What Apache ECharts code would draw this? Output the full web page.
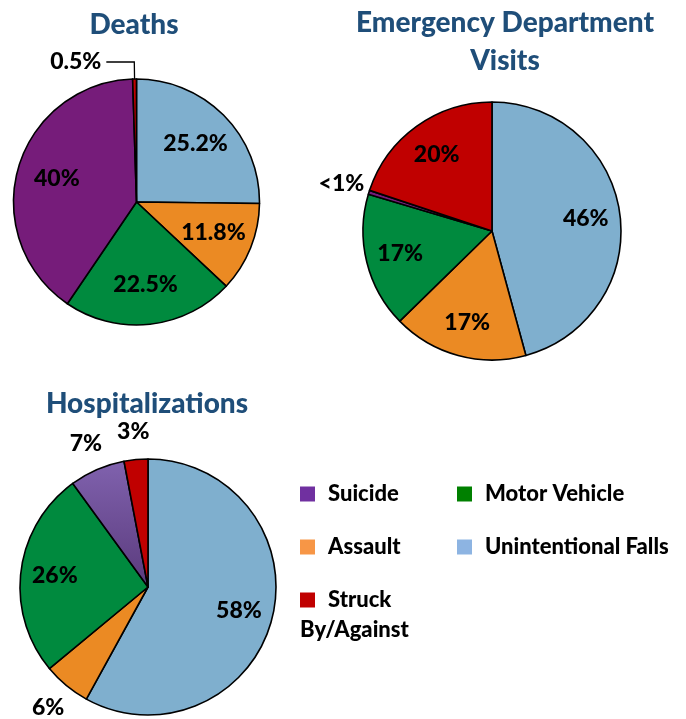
<!DOCTYPE html>
<html>
<head>
<meta charset="utf-8">
<script src="https://cdn.jsdelivr.net/npm/echarts@6/dist/echarts.min.js"></script>
<style>
html,body{margin:0;padding:0;background:#fff;}
#chart{width:686px;height:719px;}
</style>
</head>
<body>
<div id="chart"></div>
<script>
// ---- data ----
const categories = ['Unintentional Falls', 'Assault', 'Motor Vehicle', 'Suicide', 'Struck By/Against'];
const deathsValues = [25.2, 11.8, 22.5, 40, 0.5];
const deathsLabels = ['25.2%', '11.8%', '22.5%', '40%', '0.5%'];
const edValues = [46, 17, 17, 0.5, 20];
const edLabels = ['46%', '17%', '17%', '<1%', '20%'];
const hospValues = [58, 6, 26, 7, 3];
const hospLabels = ['58%', '6%', '26%', '7%', '3%'];
const legendCol1 = ['Suicide', 'Assault', 'Struck By/Against'];
const legendCol2 = ['Motor Vehicle', 'Unintentional Falls'];
const titles = ['Deaths', 'Emergency Department\nVisits', 'Hospitalizations'];

// ---- styles ----
const FONT = 'Lato';
const WEIGHT = 900;
const sliceColors = ['#7FAFCE', '#EB8A23', '#008A3E', '#761C7A', '#C00000'];
const hospPurple = new echarts.graphic.LinearGradient(0, 0, 0, 1, [
  {offset: 0, color: '#8062AE'}, {offset: 1, color: '#5A3A7C'}
]);
const legendColors = {
  'Suicide': '#7030A0', 'Motor Vehicle': '#008000', 'Assault': '#F79646',
  'Unintentional Falls': '#8DB4E2', 'Struck By/Against': '#C00000'
};
const labelFont = {fontFamily: FONT, fontWeight: WEIGHT, fontSize: 23, color: '#000'};

function buildPie(center, R, values, labels, colors, opts) {
  const main = {
    type: 'pie', center: center, radius: R, startAngle: 90, clockwise: true,
    silent: true, avoidLabelOverlap: false, animation: false,
    itemStyle: {borderColor: '#000', borderWidth: 1.6},
    label: {show: false}, labelLine: {show: false},
    data: categories.map((c, i) => {
      const d = {name: c, value: values[i], itemStyle: {color: colors[i]}};
      if (opts.leader && values[i] < 10) {
        d.label = Object.assign({show: true, position: 'outside', formatter: labels[i]}, labelFont);
        d.labelLine = {show: true, length: 17, length2: 28, lineStyle: {color: '#000', width: 1.3}};
      }
      return d;
    })
  };
  const inner = {
    type: 'pie', center: center, radius: [R * opts.inner, R], startAngle: 90, clockwise: true,
    silent: true, avoidLabelOverlap: false, animation: false,
    itemStyle: {color: 'rgba(0,0,0,0)', borderWidth: 0},
    labelLine: {show: false},
    data: categories.map((c, i) => ({
      name: c, value: values[i],
      label: Object.assign({show: values[i] >= 10, position: 'inside', formatter: labels[i]}, labelFont)
    }))
  };
  const outer = {
    type: 'pie', center: center, radius: [R, R * 1.4], startAngle: 90, clockwise: true,
    silent: true, avoidLabelOverlap: false, animation: false,
    itemStyle: {color: 'rgba(0,0,0,0)', borderWidth: 0},
    labelLine: {show: false},
    data: categories.map((c, i) => ({
      name: c, value: values[i],
      label: Object.assign({show: !opts.leader && values[i] < 10, position: 'inside', formatter: labels[i]}, labelFont)
    }))
  };
  return [main, inner, outer];
}

const hospColors = sliceColors.slice();
hospColors[3] = hospPurple;

const LF = 22;
const rich = {t: {fontFamily: FONT, fontWeight: WEIGHT, fontSize: LF, color: '#000', padding: [0, 0, 0, 13], lineHeight: 30},
              t2: {fontFamily: FONT, fontWeight: WEIGHT, fontSize: LF, color: '#000', lineHeight: 30}};
Object.keys(legendColors).forEach((k, i) => {
  rich['b' + i] = {width: 15, height: 15, backgroundColor: legendColors[k], verticalAlign: 'middle'};
});
const legendKeys = Object.keys(legendColors);
function legendFmt(name) {
  const idx = legendKeys.indexOf(name);
  const parts = name === 'Struck By/Against' ? ['Struck', 'By/Against'] : [name];
  let s = '{b' + idx + '|}{t|' + parts[0] + '}';
  if (parts[1]) s += '\n{t2|' + parts[1] + '}';
  return s;
}
function legendCfg(left, data) {
  return {
    orient: 'vertical', left: left, top: 479, icon: 'none', itemWidth: 0, itemHeight: 0,
    itemGap: 23, selectedMode: false, padding: 0, data: data, formatter: legendFmt,
    textStyle: {fontFamily: FONT, fontWeight: WEIGHT, fontSize: LF, color: '#000', lineHeight: 30, rich: rich}
  };
}

const titleStyle = {fontFamily: FONT, fontWeight: WEIGHT, fontSize: 28, color: '#1F4E79', lineHeight: 38};

const option = {
  backgroundColor: '#fff',
  title: [
    {text: titles[0], left: 134, top: 6, textAlign: 'center', padding: 0, textStyle: titleStyle},
    {text: titles[1], left: 505, top: 4, textAlign: 'center', padding: 0, textStyle: titleStyle},
    {text: titles[2], left: 147, top: 385, textAlign: 'center', padding: 0, textStyle: titleStyle}
  ],
  legend: [legendCfg(295, legendCol1), legendCfg(452, legendCol2)],
  series: [].concat(
    buildPie([136.5, 202], 123, deathsValues, deathsLabels, sliceColors, {leader: true, inner: 0.3}),
    buildPie([492, 231], 129, edValues, edLabels, sliceColors, {leader: false, inner: 0.42}),
    buildPie([148, 587], 128, hospValues, hospLabels, hospColors, {leader: false, inner: 0.42})
  )
};

const chart = echarts.init(document.getElementById('chart'), null, {renderer: 'canvas'});
chart.setOption(option);
</script>
</body>
</html>
